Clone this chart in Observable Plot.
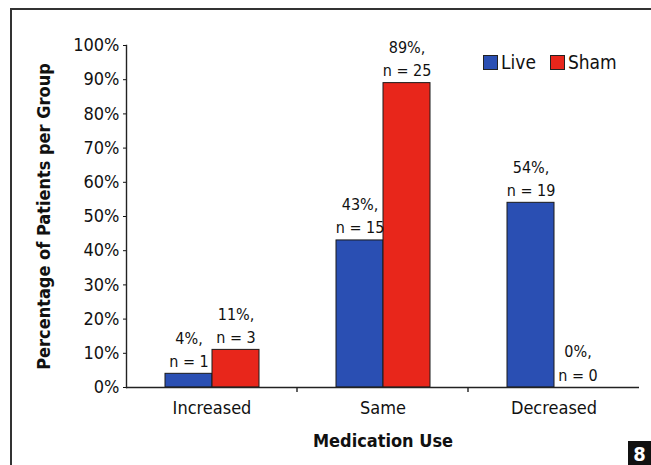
<!DOCTYPE html>
<html>
<head>
<meta charset="utf-8">
<script src="https://cdn.jsdelivr.net/npm/d3@7"></script>
<script src="https://cdn.jsdelivr.net/npm/@observablehq/plot@0.6"></script>
<style>
  html, body { margin: 0; padding: 0; background: #fff; }
  #wrap { position: relative; width: 651px; height: 465px; overflow: hidden; font-family: "Liberation Sans Narrow", "DejaVu Sans Condensed", "Liberation Sans", sans-serif; }
  #border { position: absolute; left: 10px; top: 8px; width: 660px; height: 480px; border-top: 2px solid #333; border-left: 2px solid #333; }
  #legend { position: absolute; left: 483px; top: 51px; display: flex; align-items: center; font-size: 19px; color: #111; }
  #legend .sw { width: 13px; height: 13px; border: 1.5px solid #222; margin-right: 3px; }
  #legend .item { display: flex; align-items: center; margin-right: 14px; }
  #badge { position: absolute; left: 628px; top: 441px; width: 23px; height: 24px; background: #111; color: #fff; font-weight: bold; font-size: 20px; line-height: 26px; text-align: center; font-family: "DejaVu Sans Condensed", sans-serif; }
  svg { position: absolute; left: 0; top: 0; }
</style>
</head>
<body>
<div id="wrap">
  <div id="border"></div>
  <div id="legend"></div>
  <div id="badge">8</div>
</div>
<script>
const categories = ["Increased", "Same", "Decreased"];
const series = ["Live", "Sham"];
const liveValues = [4, 43, 54];
const shamValues = [11, 89, 0];
const liveN = [1, 15, 19];
const shamN = [3, 25, 0];
const yTicks = [0, 10, 20, 30, 40, 50, 60, 70, 80, 90, 100];
const seriesColors = ["#2a4fb3", "#e8261b"];

const rows = [];
categories.forEach((c, i) => {
  rows.push({category: c, series: "Live", value: liveValues[i], n: liveN[i]});
  rows.push({category: c, series: "Sham", value: shamValues[i], n: shamN[i]});
});

const font = '"Liberation Sans Narrow", "DejaVu Sans Condensed", "Liberation Sans", sans-serif';

const chart = Plot.plot({
  width: 651,
  height: 465,
  marginLeft: 125,
  marginRight: 11,
  marginTop: 45,
  marginBottom: 78,
  style: {fontFamily: font, fontSize: "18px", color: "#111", background: "transparent"},
  fx: {domain: categories, padding: 0, label: null},
  x: {domain: series, paddingInner: 0, paddingOuter: 0.79, axis: null},
  y: {domain: [0, 100]},
  color: {domain: series, range: seriesColors},
  marks: [
    Plot.axisY({ticks: yTicks, tickFormat: d => d + "%", tickSize: 3, tickPadding: 4, fontSize: 18,
      label: "Percentage of Patients per Group", labelAnchor: "center", labelArrow: "none", labelOffset: 89}),
    Plot.axisFx({anchor: "bottom", tickSize: 0, tickPadding: 14, fontSize: 18,
      label: "Medication Use", labelAnchor: "center", labelArrow: "none", labelOffset: 59}),
    Plot.barY(rows, {fx: "category", x: "series", y: "value", fill: "series", stroke: "#1a1a1a", strokeWidth: 1}),
    Plot.text(rows, {fx: "category", x: "series", y: "value",
      text: d => `${d.value}%,\nn = ${d.n}`, lineAnchor: "bottom", dy: -7, fontSize: 16, lineHeight: 1.45, fill: "#111"}),
    Plot.ruleY([0], {stroke: "#222", strokeWidth: 1.6}),
    Plot.frame({anchor: "left", facetAnchor: "left", stroke: "#222", strokeWidth: 1.4})
  ]
});

document.getElementById("wrap").appendChild(chart);

// bold axis titles
d3.select(chart).selectAll('[aria-label="y-axis label"] text, [aria-label="fx-axis label"] text')
  .attr("font-weight", "bold").attr("font-size", 18);

// boundary ticks between categories on the x axis
const fxScale = chart.scale("fx");
const yScale = chart.scale("y");
const y0 = yScale.apply(0);
categories.slice(1).forEach(c => {
  const xb = fxScale.apply(c);
  d3.select(chart).append("line").attr("x1", xb).attr("x2", xb).attr("y1", y0).attr("y2", y0 + 5)
    .attr("stroke", "#222").attr("stroke-width", 1.4);
});

// legend
const legend = d3.select("#legend");
series.forEach((s, i) => {
  const item = legend.append("div").attr("class", "item");
  item.append("div").attr("class", "sw").style("background", seriesColors[i]);
  item.append("span").text(s);
});
</script>
</body>
</html>
